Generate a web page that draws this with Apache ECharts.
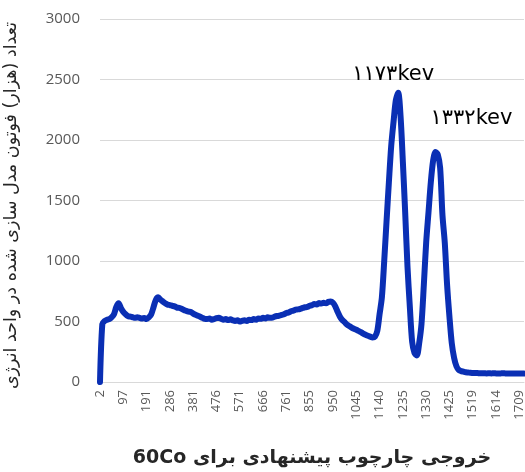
<!DOCTYPE html>
<html><head><meta charset="utf-8">
<script src="https://cdn.jsdelivr.net/npm/echarts@6/dist/echarts.min.js"></script>
<style>html,body{margin:0;padding:0;background:#fff}#c{width:525px;height:472px}</style>
</head><body><div id="c"></div>
<script>
const tickLabels = [2,97,191,286,381,476,571,666,761,855,950,1045,1140,1235,1330,1425,1519,1614,1709];
const categories = [
2,11,21,30,40,49,59,68,78,87,
97,106,116,125,135,144,154,163,173,182,
191,201,211,220,230,239,249,258,268,277,
286,296,305,315,324,334,343,353,362,372,
381,391,400,410,419,429,438,448,457,467,
476,486,495,505,514,524,533,543,552,562,
571,580,590,599,609,618,628,637,647,656,
666,675,685,694,704,713,723,732,742,751,
761,770,780,789,799,808,818,827,837,846,
855,865,874,884,893,903,912,922,931,941,
950,960,969,979,988,998,1007,1017,1026,1036,
1045,1055,1064,1074,1083,1093,1102,1112,1121,1130,
1140,1149,1159,1168,1178,1187,1197,1206,1216,1225,
1235,1244,1254,1263,1273,1282,1292,1301,1311,1320,
1330,1339,1349,1358,1368,1377,1387,1396,1406,1415,
1425,1434,1443,1453,1462,1472,1481,1491,1500,1510,
1519,1529,1538,1548,1557,1567,1576,1586,1595,1605,
1614,1624,1633,1643,1652,1662,1671,1681,1690,1699,
1709,1718,1728
];
const photons = [
0,480,505,515,520,535,560,620,650,610,
580,560,545,540,535,530,535,530,525,528,
520,535,560,620,680,700,680,665,650,640,
636,630,625,615,612,605,595,588,582,578,
565,555,548,540,530,522,520,525,515,520,
528,530,522,515,520,512,518,510,505,510,
500,505,510,505,515,512,520,515,525,522,
530,525,535,530,532,540,545,548,555,560,
570,575,585,590,598,600,605,612,618,620,
630,635,645,640,652,648,655,650,662,665,
655,625,580,540,512,495,475,462,450,440,
432,422,412,400,390,382,375,368,375,420,
560,700,1000,1330,1650,1950,2150,2330,2390,2200,
1820,1400,950,620,330,240,220,320,480,800,
1150,1400,1650,1830,1900,1880,1770,1380,1150,800,
540,320,200,130,100,90,85,80,78,76,
75,74,74,72,73,72,71,72,71,72,
71,70,71,72,71,70,71,70,71,70,
71,70,70
];
const yTicks = [0,500,1000,1500,2000,2500,3000];
const peakLabels = ['\u06F1\u06F1\u06F7\u06F3kev', '\u06F1\u06F3\u06F3\u06F2kev'];
const peakIndex = [128, 144];
const yTitle = '\u202Bتعداد (هزار) فوتون مدل سازی شده در واحد انرژی\u202C';
const xTitle = '\u202Bخروجی چارچوب پیشنهادی برای 60Co\u202C';

const chart = echarts.init(document.getElementById('c'));
const labelOffsets = [[-5,-3],[36,-18]];
chart.setOption({
  animation: false,
  grid: {left: 100, right: 1, top: 19, bottom: 90, outerBoundsMode: 'none', containLabel: false},
  xAxis: {
    type: 'category', data: categories, boundaryGap: false,
    axisLine: {lineStyle: {color: '#d9d9d9', width: 1}},
    axisTick: {show: false},
    axisLabel: {interval: 9, rotate: 90, color: '#595959', fontSize: 13, fontFamily: 'Open Sans', margin: 8},
    name: xTitle, nameLocation: 'middle', nameGap: 67,
    nameTextStyle: {fontSize: 19, fontWeight: 'bold', color: '#262626', fontFamily: 'DejaVu Sans'}
  },
  yAxis: {
    type: 'value', min: yTicks[0], max: yTicks[yTicks.length - 1], interval: 500,
    axisLine: {show: false}, axisTick: {show: false},
    splitLine: {lineStyle: {color: '#d9d9d9', width: 1}},
    axisLabel: {color: '#595959', fontSize: 15, fontFamily: 'Open Sans', margin: 20, formatter: v => String(v)},
    name: yTitle, nameLocation: 'middle', nameGap: 80,
    nameTextStyle: {fontSize: 17.5, color: '#262626', fontFamily: 'DejaVu Sans', padding: [0, 10, 0, 0]}
  },
  series: [{
    type: 'line', data: photons, showSymbol: false, smooth: 0.3,
    lineStyle: {color: '#0a2fb4', width: 6, cap: 'round', join: 'round'},
    markPoint: {
      symbol: 'circle', symbolSize: 0,
      data: peakIndex.map((ix, k) => ({
        coord: [ix, photons[ix]],
        label: {show: true, formatter: peakLabels[k], position: 'top', offset: labelOffsets[k],
          color: '#000', fontSize: 21, fontFamily: 'DejaVu Sans'}
      }))
    }
  }]
});
</script></body></html>
